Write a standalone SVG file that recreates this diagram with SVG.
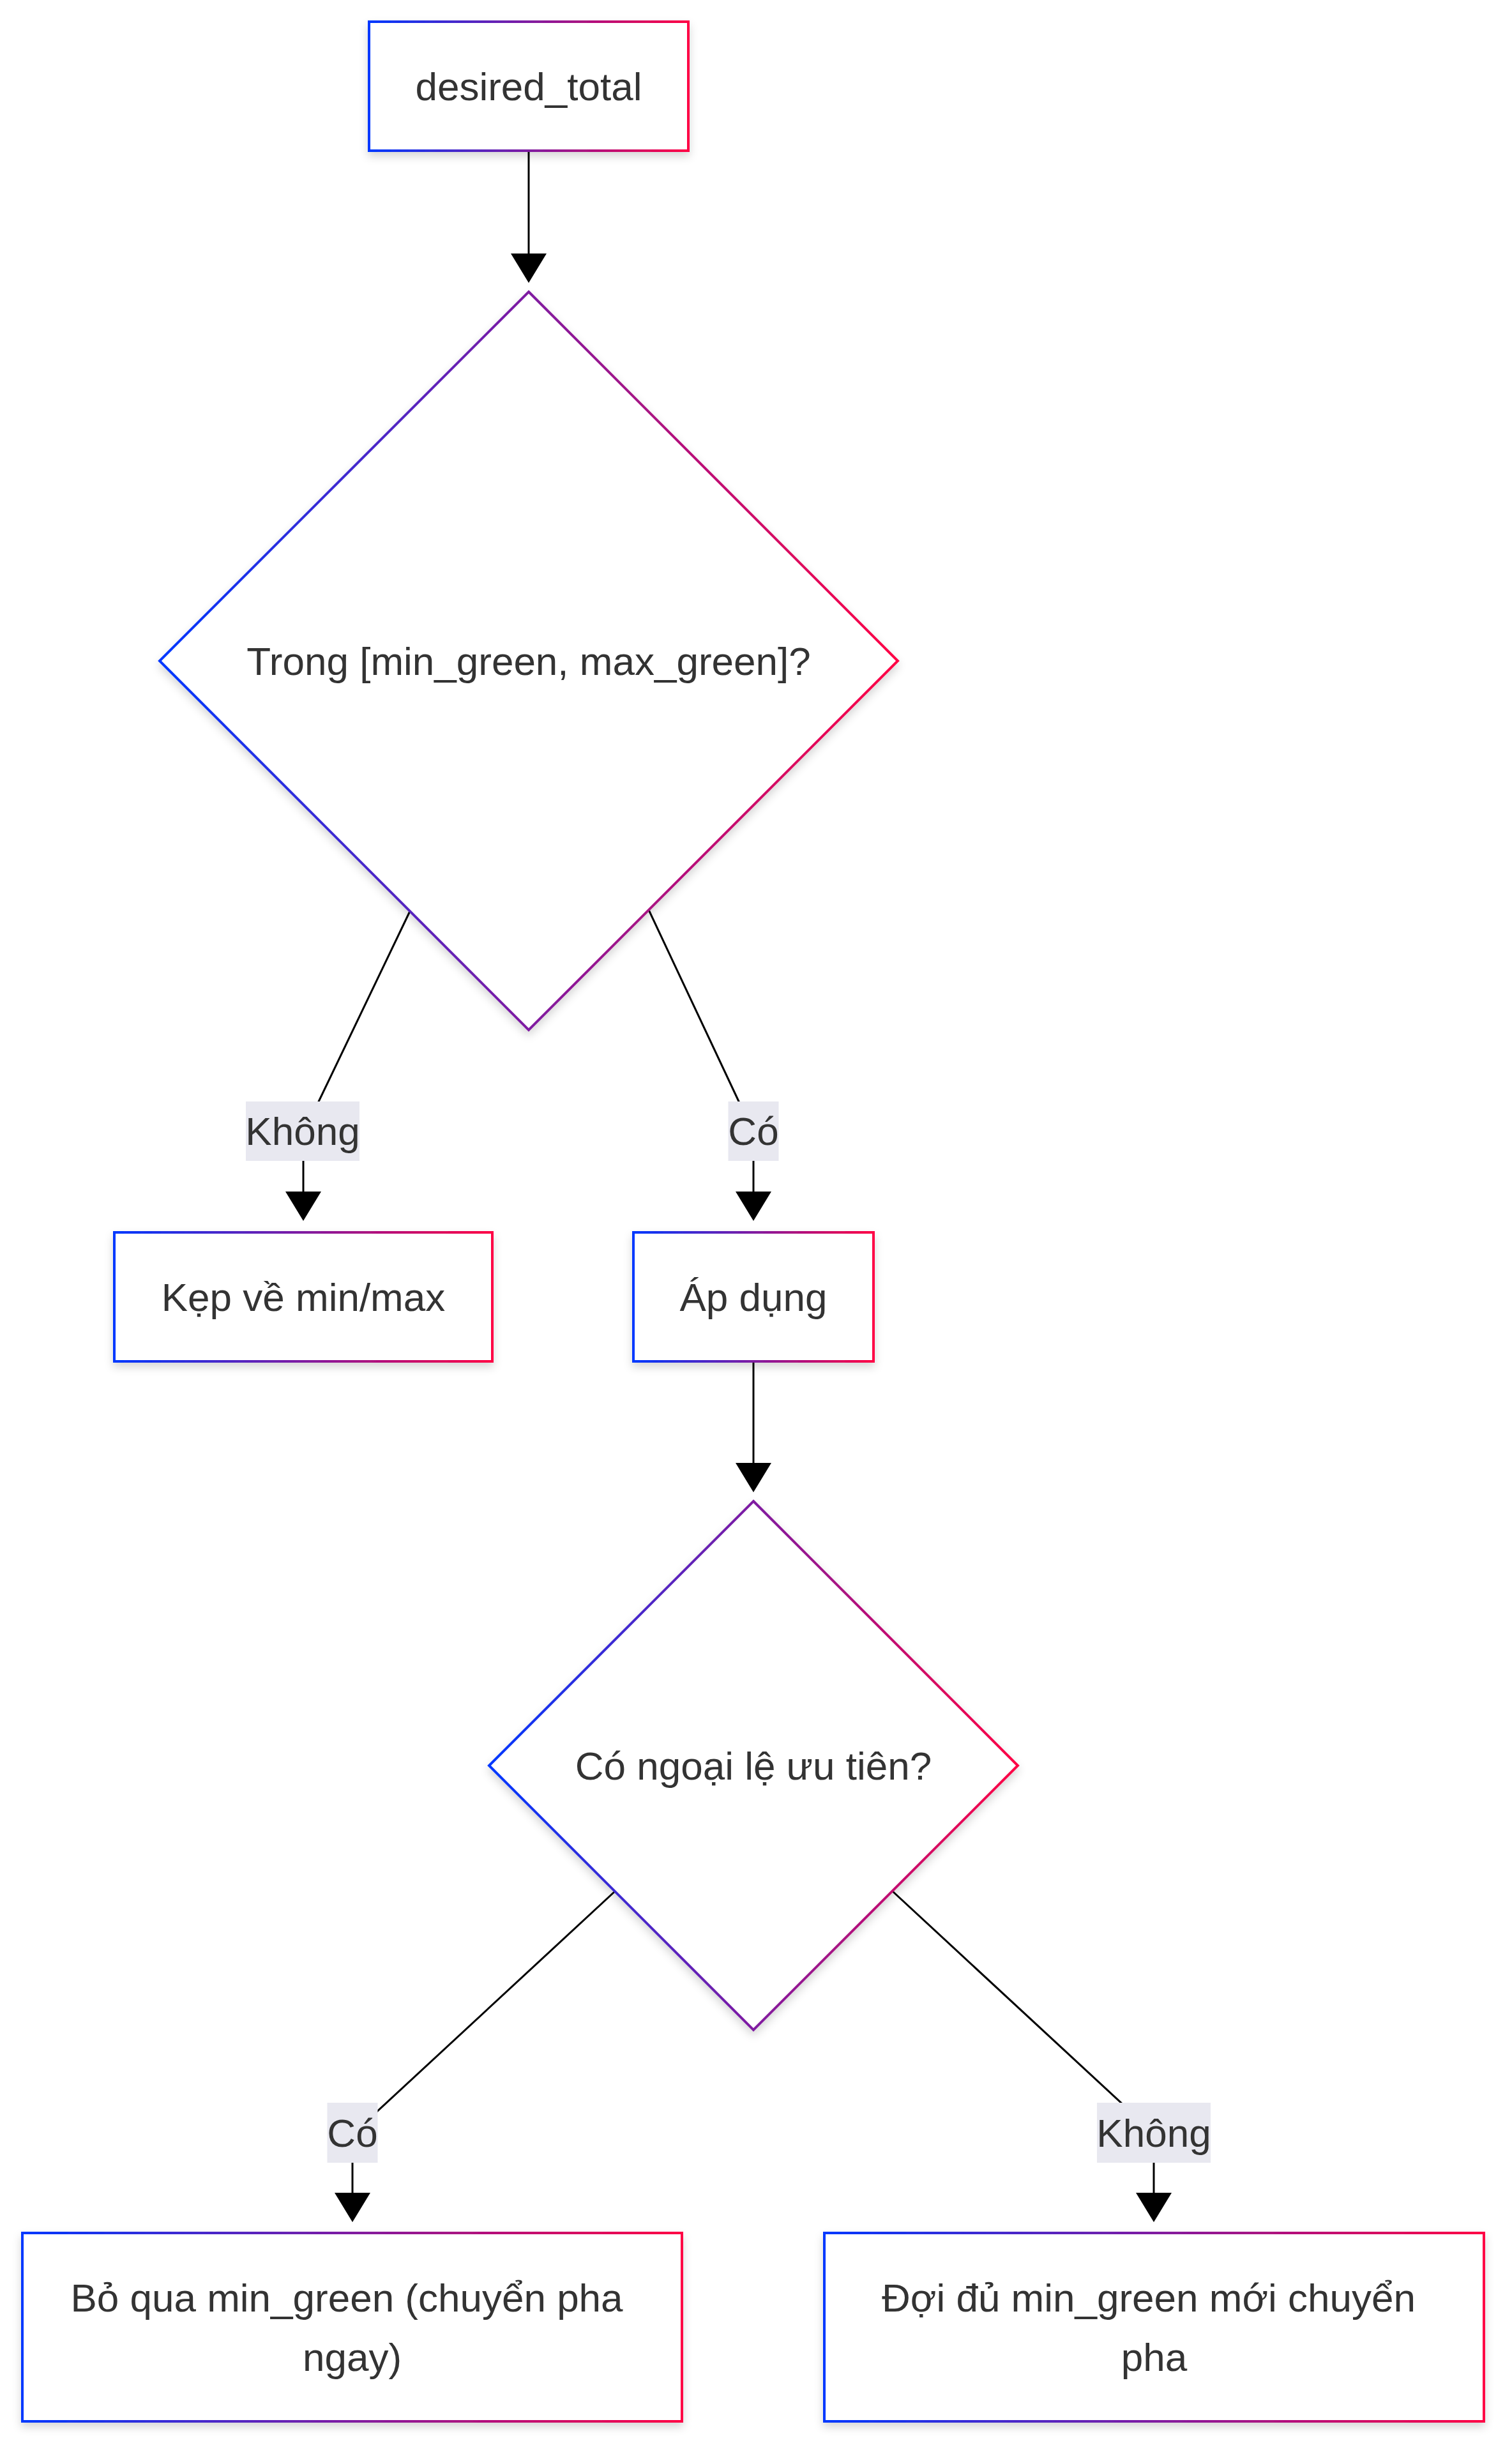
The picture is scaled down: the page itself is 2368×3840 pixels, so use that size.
<svg xmlns="http://www.w3.org/2000/svg" width="2368" height="3840" viewBox="0 0 2368 3840">
<defs>
<linearGradient id="grad" x1="0" y1="0" x2="1" y2="0" gradientUnits="objectBoundingBox">
<stop offset="0" stop-color="#0038ff"/>
<stop offset="1" stop-color="#ff0044"/>
</linearGradient>
<filter id="shadow" x="-20%" y="-20%" width="140%" height="140%">
<feDropShadow dx="0" dy="7" stdDeviation="7" flood-color="#000" flood-opacity="0.16"/>
</filter>
<marker id="arrow" viewBox="0 0 46 56" refX="0" refY="28" markerWidth="46" markerHeight="56" markerUnits="userSpaceOnUse" orient="auto">
<path d="M0,0 L46,28 L0,56 Z" fill="#000"/>
</marker>
</defs>
<style>
.node rect, .node polygon { fill: #ffffff; stroke: url(#grad); stroke-width: 4; filter: url(#shadow); }
.node text { font-family: "Liberation Sans", Arial, sans-serif; font-size: 62px; fill: #333333; text-anchor: middle; dominant-baseline: central; }
.edge { fill: none; stroke: #000000; stroke-width: 3; marker-end: url(#arrow); }
.elabel rect { fill: #e8e8f0; }
.elabel text { font-family: "Liberation Sans", Arial, sans-serif; font-size: 62px; fill: #333333; text-anchor: middle; dominant-baseline: central; }
</style>
<rect width="2368" height="3840" fill="#ffffff"/>

<g id="connectors">
<path class="edge" d="M828,236 L828,397"/>
<path class="edge" d="M642,1427 L490,1744 Q475,1775 475,1800 L475,1866"/>
<path class="edge" d="M1016,1425 L1166,1744 Q1180,1775 1180,1800 L1180,1866"/>
<path class="edge" d="M1180,2132 L1180,2291"/>
<path class="edge" d="M963,2962 L560,3335 Q552,3342 552,3360 L552,3434"/>
<path class="edge" d="M1398,2962 L1800,3334 Q1807,3341 1807,3360 L1807,3434"/>
<g class="elabel" id="label-khong-1">
<rect x="385" y="1725" width="178" height="93"/>
<text x="474" y="1771.5">Không</text>
</g>
<g class="elabel" id="label-co-1">
<rect x="1140.5" y="1725" width="79" height="93"/>
<text x="1180" y="1771.5">Có</text>
</g>
<g class="elabel" id="label-co-2">
<rect x="512.5" y="3293" width="79" height="94"/>
<text x="552" y="3340">Có</text>
</g>
<g class="elabel" id="label-khong-2">
<rect x="1718" y="3293" width="178" height="94"/>
<text x="1807" y="3340">Không</text>
</g>
</g>

<g id="node-desired" class="node">
<rect x="578" y="34" width="500" height="202"/>
<text x="828" y="135">desired_total</text>
</g>

<g id="node-check-range" class="node">
<polygon points="828,457 1406,1035 828,1613 250,1035"/>
<text x="828" y="1035">Trong [min_green, max_green]?</text>
</g>

<g id="node-clamp" class="node">
<rect x="179" y="1930" width="592" height="202"/>
<text x="475" y="2031">Kẹp về min/max</text>
</g>

<g id="node-apply" class="node">
<rect x="992" y="1930" width="376" height="202"/>
<text x="1180" y="2031">Áp dụng</text>
</g>

<g id="node-priority" class="node">
<polygon points="1180,2351 1594,2765 1180,3179 766,2765"/>
<text x="1180" y="2765">Có ngoại lệ ưu tiên?</text>
</g>

<g id="node-skip" class="node">
<rect x="35" y="3497" width="1033" height="295"/>
<text x="543" y="3598">Bỏ qua min_green (chuyển pha</text>
<text x="551.5" y="3691">ngay)</text>
</g>

<g id="node-wait" class="node">
<rect x="1291" y="3497" width="1033" height="295"/>
<text x="1799" y="3598">Đợi đủ min_green mới chuyển</text>
<text x="1807.5" y="3691">pha</text>
</g>
</svg>
